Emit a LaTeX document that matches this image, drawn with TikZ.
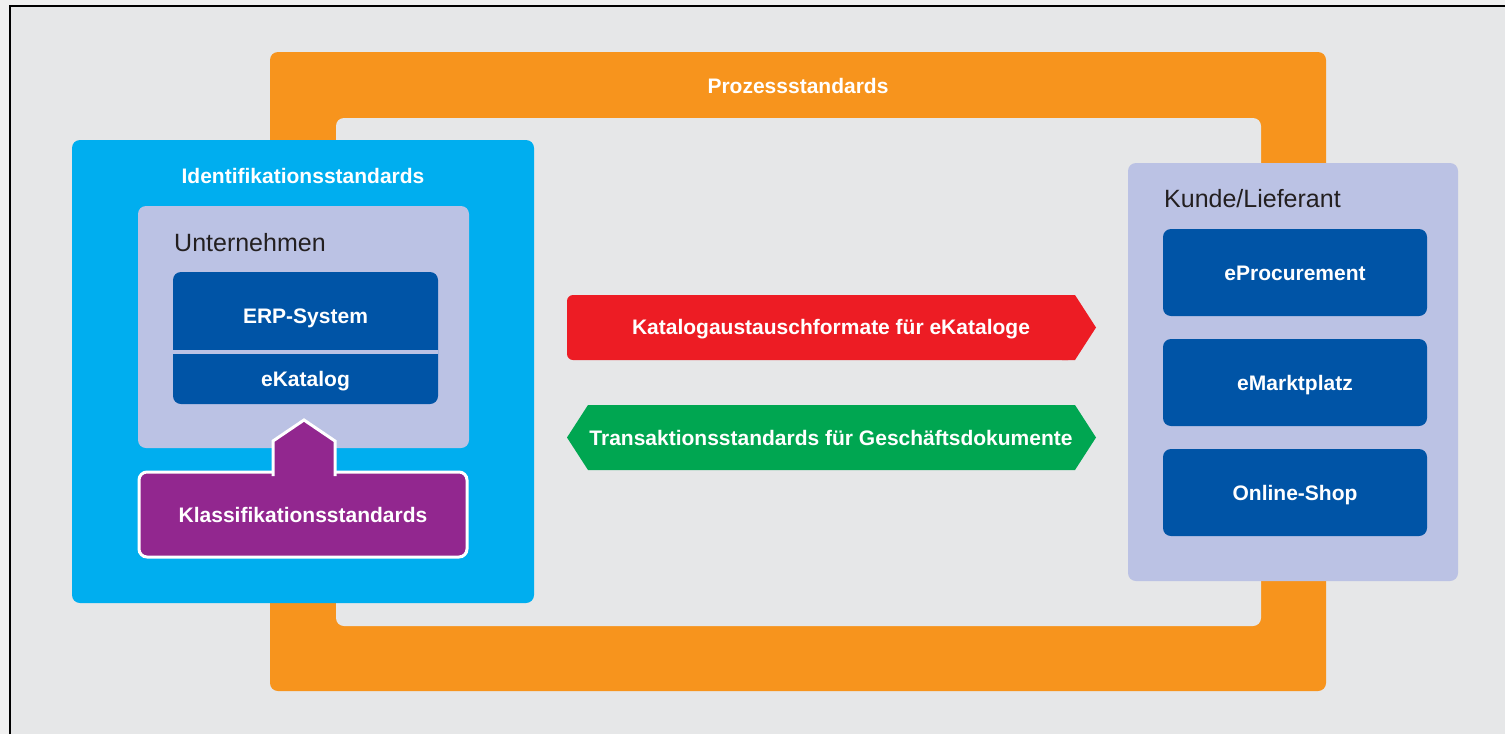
\documentclass[tikz,border=0pt]{standalone}
\usepackage{fontspec}
\setmainfont{Liberation Sans}
\definecolor{pagegray}{HTML}{F0F0F0}
\definecolor{bggray}{HTML}{E6E7E8}
\definecolor{orangeC}{HTML}{F7941D}
\definecolor{cyanC}{HTML}{00AEEF}
\definecolor{lavC}{HTML}{BBC2E4}
\definecolor{navyC}{HTML}{0054A6}
\definecolor{purpleC}{HTML}{92278F}
\definecolor{redC}{HTML}{ED1C24}
\definecolor{greenC}{HTML}{00A651}
\definecolor{darkT}{HTML}{231F20}
\tikzset{
  panel/.style={draw=none, rounded corners=8, inner sep=0, outer sep=0},
  lbl/.style={font=\bfseries\fontsize{21}{21}\selectfont, text=white, anchor=base, inner sep=0},
  dlbl/.style={font=\fontsize{25}{25}\selectfont, text=darkT, anchor=base west, inner sep=0},
}
\begin{document}
\begin{tikzpicture}[x=1pt,y=-1pt]
\useasboundingbox (0,0) rectangle (1505,734);
\fill[pagegray] (0,0) rectangle (1505,734);
\fill[bggray] (10,6) rectangle (1505,734);
\draw[black, line width=1.5] (10,734) -- (10,6) -- (1505,6);

% Prozessstandards frame
\node[panel, fill=orangeC, minimum width=1056, minimum height=639] (proz) at (798,371.5) {};
\node[panel, fill=bggray, minimum width=925, minimum height=508] (inner) at (798.5,372) {};
\node[lbl] (prozT) at (798,93.5) {Prozessstandards};

% Identifikationsstandards
\node[panel, fill=cyanC, minimum width=462, minimum height=463] (ident) at (303,371.5) {};
\node[lbl] (identT) at (303,183.5) {Identifikationsstandards};
\node[panel, fill=lavC, minimum width=331, minimum height=242] (unt) at (303.5,327) {};
\node[dlbl] (untT) at (174,251) {Unternehmen};
\node[panel, fill=navyC, minimum width=265, minimum height=132] (erpbox) at (305.5,338) {};
\fill[lavC] (173,349.5) rectangle (438,353.5);
\node[lbl] (erp) at (305.5,323) {ERP-System};
\node[lbl] (ekat) at (305.5,386) {eKatalog};

% Klassifikationsstandards
\node[panel, fill=purpleC, draw=white, line width=3, minimum width=328, minimum height=85] (klass) at (303,514.5) {};
\path[fill=purpleC, draw=white, line width=3] (273,476) -- (273,441) -- (304,420) -- (335,441) -- (335,476);
\fill[purpleC] (274.6,470) rectangle (333.4,478);
\node[lbl] (klassT) at (303,522.5) {Klassifikationsstandards};

% Arrows
\fill[redC, rounded corners=6] (567,295) rectangle (1074,360);
\fill[redC] (1062,295) -- (1075,295) -- (1096,327.5) -- (1075,360) -- (1062,360) -- cycle;
\node[lbl] (katT) at (831,334) {Katalogaustauschformate für eKataloge};
\fill[greenC] (567,437.5) -- (588,405) -- (1075,405) -- (1096,437.5) -- (1075,470) -- (588,470) -- cycle;
\node[lbl] (transT) at (831,445) {Transaktionsstandards für Geschäftsdokumente};

% Kunde/Lieferant
\node[panel, fill=lavC, minimum width=330, minimum height=418] (kunde) at (1293,372) {};
\node[dlbl] (kundeT) at (1164,207) {Kunde/Lieferant};
\node[panel, fill=navyC, minimum width=264, minimum height=87] (eproc) at (1295,272.5) {};
\node[lbl] at (eproc.center) [yshift=-7.5] (eprocT) {eProcurement};
\node[panel, fill=navyC, minimum width=264, minimum height=87] (emark) at (1295,382.5) {};
\node[lbl] at (emark.center) [yshift=-7.5] (emarkT) {eMarktplatz};
\node[panel, fill=navyC, minimum width=264, minimum height=87] (shop) at (1295,492.5) {};
\node[lbl] at (shop.center) [yshift=-7.5] (shopT) {Online-Shop};
\end{tikzpicture}
\end{document}
